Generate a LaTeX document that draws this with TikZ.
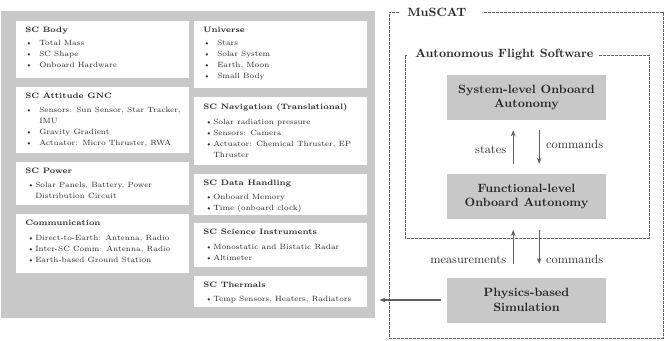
\documentclass[tikz,border=0pt]{standalone}
\usepackage{xcolor}
\usepackage{tikz}
\usetikzlibrary{arrows.meta,positioning,calc}

\definecolor{panelgray}{RGB}{200,200,200}
\definecolor{linegray}{RGB}{95,95,95}

% titles and bullet lines (wide and narrow indent)
\newcommand{\ttl}[1]{\mbox{\fontsize{5.9}{8.25}\selectfont\bfseries #1}}
\newcommand{\wb}[1]{\par\mbox{\makebox[10.5pt][l]{\textbullet}#1}}
\newcommand{\nb}[1]{\par\mbox{\hspace*{1.5pt}\makebox[6pt][l]{\textbullet}#1}}
\newcommand{\wc}[1]{\par\mbox{\hspace*{10.5pt}#1}}
\newcommand{\nc}[1]{\par\mbox{\hspace*{7.5pt}#1}}
\newcommand{\panel}[2]{\parbox[c][#1][t]{116pt}{\vspace*{4.5pt}#2}}

\begin{document}
\begin{tikzpicture}[
  x=0.75pt, y=-0.75pt,
  infobox/.style={fill=white, anchor=north west, inner xsep=6.75pt,
    inner ysep=0pt, font=\fontsize{5.7}{8.25}\selectfont, text=black!85},
  block/.style={fill=panelgray, minimum width=119.25pt, minimum height=33.75pt,
    font=\small\bfseries, align=center, text=black!85},
  frame/.style={draw=linegray, dash pattern=on 2pt off 1pt, line width=0.6pt},
  flow/.style={->, >={Stealth[length=4.5pt,width=3.5pt]}, draw=linegray,
    line width=0.9pt},
  tag/.style={font=\small, text=black!80}
]
  \useasboundingbox (0,0) rectangle (664,340);

  % Models panel
  \node[fill=panelgray, anchor=north west, inner sep=0pt,
    minimum width=280.5pt, minimum height=230.25pt] (bg) at (1,11) {};

  \node[infobox] (body) at (16,21) {\panel{42.75pt}{%
    \ttl{SC Body}\vspace{1.5pt}
    \wb{Total Mass}
    \wb{SC Shape}
    \wb{Onboard Hardware}}};
  \node[infobox] (gnc) at (16,87) {\panel{49.5pt}{%
    \ttl{SC Attitude GNC}\vspace{2pt}
    \wb{Sensors: Sun Sensor, Star Tracker,}
    \wc{IMU}
    \wb{Gravity Gradient}
    \wb{Actuator: Micro Thruster, RWA}}};
  \node[infobox] (power) at (16,162) {\panel{32.25pt}{%
    \ttl{SC Power}\vspace{2pt}
    \nb{Solar Panels, Battery, Power}
    \nc{Distribution Circuit}}};
  \node[infobox] (comm) at (16,214) {\panel{44.25pt}{%
    \ttl{Communication}\vspace{3pt}
    \nb{Direct-to-Earth: Antenna, Radio}
    \nb{Inter-SC Comm: Antenna, Radio}
    \nb{Earth-based Ground Station}}};

  \node[infobox] (universe) at (194,21) {\panel{50.25pt}{%
    \ttl{Universe}\vspace{1pt}
    \wb{Stars}
    \wb{Solar System}
    \wb{Earth, Moon}
    \wb{Small Body}}};
  \node[infobox] (nav) at (194,97) {\panel{51pt}{%
    \ttl{SC Navigation (Translational)}\vspace{3pt}
    \nb{Solar radiation pressure}
    \nb{Sensors: Camera}
    \nb{Actuator: Chemical Thruster, EP}
    \nc{Thruster}}};
  \node[infobox] (data) at (194,174) {\panel{30.75pt}{%
    \ttl{SC Data Handling}\vspace{2pt}
    \nb{Onboard Memory}
    \nb{Time (onboard clock)}}};
  \node[infobox] (science) at (194,223) {\panel{33pt}{%
    \ttl{SC Science Instruments}\vspace{3pt}
    \nb{Monostatic and Bistatic Radar}
    \nb{Altimeter}}};
  \node[infobox] (thermal) at (194,276) {\panel{23.25pt}{%
    \ttl{SC Thermals}\vspace{2pt}
    \nb{Temp Sensors, Heaters, Radiators}}};

  % MuSCAT frame
  \node[anchor=west, inner sep=0pt, font=\small\bfseries, text=black!85]
    (muscat) at (407,12) {MuSCAT};
  \draw[frame] ([xshift=13.5pt]muscat.east) -- (663,12) -- (663,338)
    -- (389,338) -- (389,12) -- ([xshift=-6pt]muscat.west);

  % Flight software frame
  \node[anchor=west, inner sep=0pt, font=\small\bfseries, text=black!85]
    (afs) at (415,55) {Autonomous Flight Software};
  \draw[frame] ([xshift=4pt]afs.east) -- (649,55) -- (649,238)
    -- (405,238) -- (405,55) -- ([xshift=-6pt]afs.west);

  \node[block] (sys) at (526.5,97.5) {System-level Onboard\\Autonomy};
  \node[block] (func) at (526.5,196.5) {Functional-level\\Onboard Autonomy};
  \node[block] (phys) at (526.5,300) {Physics-based\\Simulation};

  \draw[flow, shorten <=7.5pt, shorten >=7.5pt]
    ([xshift=-10pt]func.north) -- node[tag, left=1.5pt, pos=0.45] {states}
    ([xshift=-10pt]sys.south);
  \draw[flow, shorten <=7.5pt, shorten >=7.5pt]
    ([xshift=9.5pt]sys.south) -- node[tag, right=1.5pt, pos=0.45] {commands}
    ([xshift=9.5pt]func.north);

  \draw[flow, shorten <=10pt, shorten >=8pt]
    ([xshift=-10pt]phys.north) -- node[tag, left=1.5pt, pos=0.3] {measurements}
    ([xshift=-10pt]func.south);
  \draw[flow, shorten <=8pt, shorten >=10pt]
    ([xshift=9.5pt]func.south) -- node[tag, right=1.5pt, pos=0.7] {commands}
    ([xshift=9.5pt]phys.north);

  \draw[flow, shorten <=4.5pt, shorten >=3pt] (phys.west) -- (phys.west -| bg.east);
\end{tikzpicture}
\end{document}
